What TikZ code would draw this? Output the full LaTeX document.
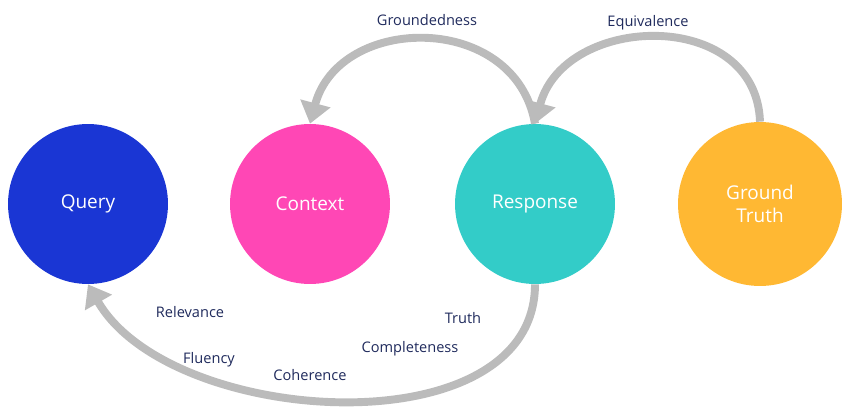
\documentclass[tikz,border=0pt]{standalone}
\usepackage{fontspec}
\setmainfont{Open Sans}
\usetikzlibrary{arrows.meta,positioning}
\definecolor{qblue}{HTML}{1A36D4}
\definecolor{cpink}{HTML}{FF47B5}
\definecolor{rteal}{HTML}{33CCC8}
\definecolor{gorange}{HTML}{FFB833}
\definecolor{arcgray}{HTML}{BBBBBB}
\definecolor{navy}{HTML}{1F2A5C}
\begin{document}
\begin{tikzpicture}[x=0.02cm,y=-0.02cm,
    blob/.style={circle, minimum size=3.2cm, inner sep=0pt, text=white, align=center, font=\fontsize{10.8}{13.5}\selectfont},
    metric/.style={text=navy, font=\fontsize{8.3}{10}\selectfont},
    arc/.style={arcgray, line width=4.5pt, -{Triangle[length=0.42cm,width=0.6cm]}}]
    \useasboundingbox (0,0) rectangle (858,419);
    \node[blob, fill=qblue] (query) at (88,204) {Query};
    \node[blob, fill=cpink] (context) at (310,204) {Context};
    \node[blob, fill=rteal] (response) at (535,204) {Response};
    \node[blob, fill=gorange, minimum size=3.28cm] (truth) at (760,204) {Ground\\Truth};
    \draw[arc] (response.north) to[out=100,in=75,looseness=1.3] (context.north);
    \draw[arc] (truth.north) to[out=92,in=75,looseness=1.3] (response.north);
    \draw[arc] (response.south) to[out=-90,in=-60,looseness=0.95] (query.south);
    \node[metric] (grounded) at (427,20) {Groundedness};
    \node[metric] (equiv) at (648,23) {Equivalence};
    \node[metric] (relev) at (190,312) {Relevance};
    \node[metric] (truthlbl) at (463,318) {Truth};
    \node[metric] (complete) at (410,349) {Completeness};
    \node[metric] (fluency) at (209,360) {Fluency};
    \node[metric] (coher) at (310,375) {Coherence};
\end{tikzpicture}
\end{document}
